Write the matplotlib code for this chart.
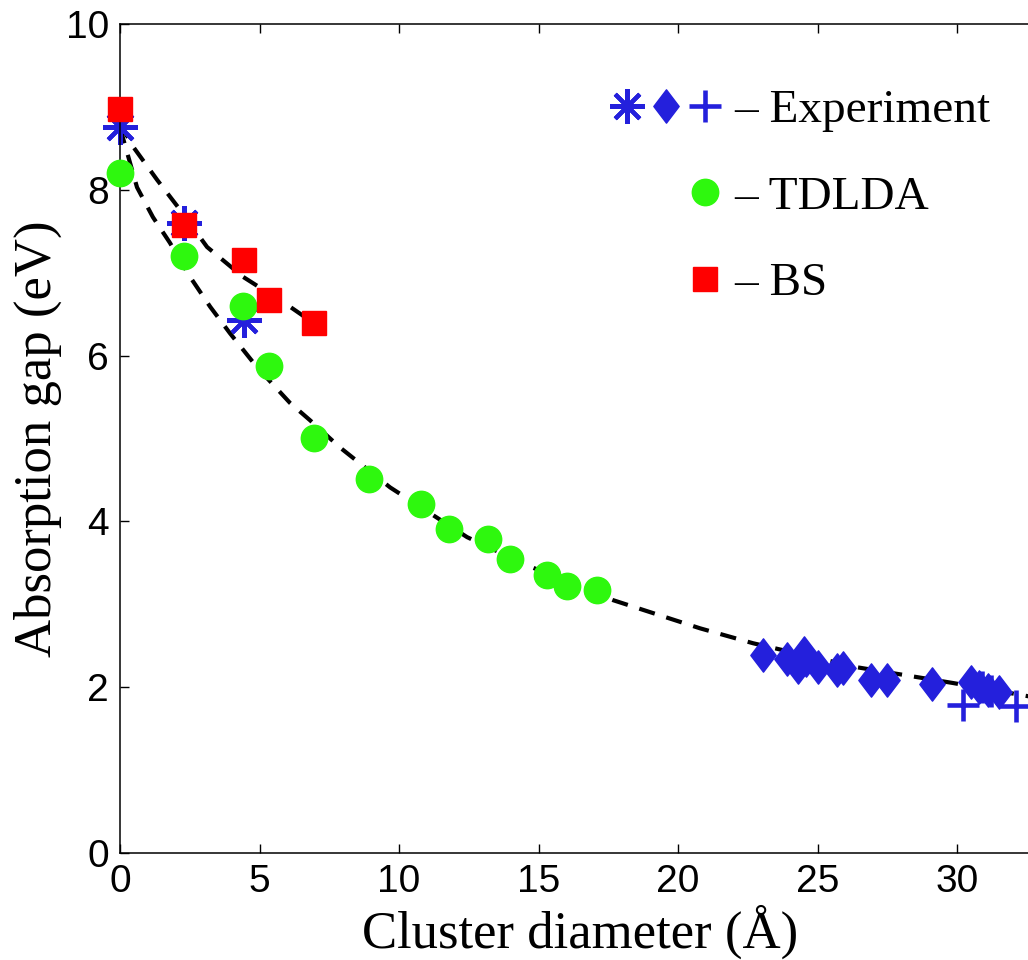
import numpy as np
import matplotlib
matplotlib.use("Agg")
import matplotlib.pyplot as plt
from matplotlib.path import Path
from matplotlib.lines import Line2D
from matplotlib.legend_handler import HandlerTuple

# TDLDA gaps
tdlda_d = [0.0, 2.3, 4.4, 5.34, 6.95, 8.92, 10.79, 11.8, 13.19, 13.98, 15.3, 16.02, 17.1]
tdlda_gap = [8.20, 7.20, 6.60, 5.87, 5.01, 4.51, 4.21, 3.91, 3.79, 3.55, 3.35, 3.22, 3.17]

# Bethe-Salpeter gaps
bs_d = [0.0, 2.3, 4.44, 5.34, 6.95]
bs_gap = [8.98, 7.58, 7.15, 6.67, 6.39]

# experiment: molecules (asterisks), clusters (diamonds), larger clusters (plus)
exp_star_d = [0.0, 2.3, 4.44]
exp_star_gap = [8.76, 7.60, 6.43]

exp_dia_d = [23.05, 23.9, 24.3, 24.5, 24.6, 25.0, 25.7, 25.9, 26.9, 27.5, 29.1,
             30.5, 30.8, 31.1, 31.5]
exp_dia_gap = [2.39, 2.34, 2.24, 2.41, 2.33, 2.24, 2.21, 2.23, 2.09, 2.09, 2.04,
               2.06, 2.00, 1.97, 1.94]

exp_plus_d = [30.2, 30.9, 31.2, 32.1]
exp_plus_gap = [1.78, 2.00, 1.95, 1.77]

# guide-to-the-eye curves
fit_low_d = [0.0, 0.61, 1.18, 1.79, 2.51, 3.23, 3.94, 4.91, 6.09, 6.81, 7.89,
             9.68, 12.44, 14.59, 17.67, 20.79, 22.69, 26.42, 29.86, 32.9]
fit_low_gap = [8.75, 8.03, 7.67, 7.36, 6.95, 6.59, 6.27, 5.86, 5.43, 5.22, 4.89,
               4.41, 3.81, 3.47, 3.05, 2.71, 2.53, 2.24, 2.05, 1.87]
fit_up_d = [0.0, 0.47, 1.33, 2.15, 3.12, 4.41, 6.09, 6.95]
fit_up_gap = [8.80, 8.52, 8.12, 7.76, 7.31, 6.95, 6.59, 6.39]

blue = "#2420dc"
green = "#2ef80e"
red = "#ff0000"

diamond = Path([(0, 1), (0.76, 0), (0, -1), (-0.76, 0), (0, 1)],
               [Path.MOVETO, Path.LINETO, Path.LINETO, Path.LINETO, Path.CLOSEPOLY])

fig = plt.figure(figsize=(10.28, 9.6), dpi=100)
fig.patch.set_facecolor("white")
# right edge of the box sits just past the figure edge
ax = fig.add_axes([120 / 1028, 1 - 853 / 960, 920 / 1028, 829 / 960])

dash = dict(color="black", lw=3, dashes=(3.9, 2.9), zorder=1)
ax.plot(fit_low_d, fit_low_gap, **dash)
ax.plot(fit_up_d, fit_up_gap, **dash)

h_star, = ax.plot(exp_star_d, exp_star_gap, ls="none", marker=(8, 2, 0), ms=25,
                  mew=3, color=blue, zorder=2, clip_on=False)
h_dia, = ax.plot(exp_dia_d, exp_dia_gap, ls="none", marker=diamond, ms=24,
                 color=blue, mec=blue, zorder=3, clip_on=False)
h_plus, = ax.plot(exp_plus_d, exp_plus_gap, ls="none", marker="+", ms=23,
                  mew=3.3, color=blue, zorder=4, clip_on=False)
h_circ, = ax.plot(tdlda_d, tdlda_gap, ls="none", marker="o", ms=19,
                  color=green, mec=green, zorder=5, clip_on=False)
h_sq, = ax.plot(bs_d, bs_gap, ls="none", marker="s", ms=17,
                color=red, mec=red, zorder=6, clip_on=False)

blank = Line2D([], [], ls="none", marker="none")
leg = fig.legend([(h_star, h_dia, h_plus), (blank, blank, h_circ), (blank, blank, h_sq)],
                 ["\u2013 Experiment", "\u2013 TDLDA", "\u2013 BS"],
                 handler_map={tuple: HandlerTuple(ndivide=3, pad=0)},
                 loc="upper left", bbox_to_anchor=(607 / 1028, 1 - 89 / 960),
                 frameon=False, borderpad=0, borderaxespad=0,
                 handlelength=2.5, handletextpad=0.2, labelspacing=0.92,
                 prop={"family": "Liberation Serif", "size": 34})

ax.set_xlim(0, 32.97)
ax.set_ylim(0, 10)
ax.set_xticks([0, 5, 10, 15, 20, 25, 30])
ax.set_yticks([0, 2, 4, 6, 8, 10])
ax.tick_params(direction="in", length=6.5, width=1, top=True, right=True,
               labelsize=28, pad=8)
for lab in ax.get_xticklabels() + ax.get_yticklabels():
    lab.set_family("Liberation Sans")
for sp in ax.spines.values():
    sp.set_linewidth(1.1)

ax.set_xlabel("Cluster diameter (Å)", family="Liberation Serif", fontsize=38)
ax.xaxis.set_label_coords(460 / 920, -52 / 829)
ax.set_ylabel("Absorption gap (eV)", family="Liberation Serif", fontsize=38)
ax.yaxis.set_label_coords(-58 / 920, 0.5)

fig.savefig("out.png", dpi=100)
